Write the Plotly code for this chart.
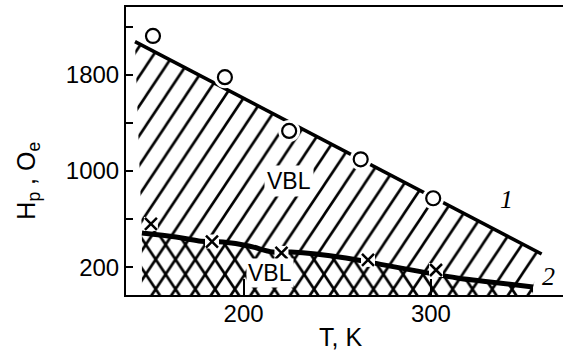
import plotly.graph_objects as go

# Data
circ_T = [151.6, 190.0, 224.3, 262.5, 301.2]
circ_H = [2123, 1780, 1333, 1097, 773]

line1_T = [142.0, 182.1, 255.7, 307.5, 359.1]
line1_H = [2076, 1749, 1150, 734, 309]

cross_T = [150.5, 183.1, 220.2, 266.4, 302.7]
cross_H = [559, 413, 318, 260, 176]

curve2_T = [145.7, 163.9, 176.1, 189.0, 202.8, 215.6, 225.3, 254.6, 269.0, 313.9, 331.5, 354.5]
curve2_H = [484, 451, 418, 409, 376, 326, 326, 276, 235, 110, 77, 35]

x_range = [137.2, 370.5]
y_range = [-32, 2364]
x_ticks = [200, 300]
y_ticks = [200, 600, 1000, 1400, 1800, 2200]
y_ticklabels = ["200", "", "1000", "", "1800", ""]

FONT = "Liberation Sans, Arial, sans-serif"
SERIF = "Liberation Serif, Times New Roman, serif"

fig = go.Figure()

# single-hatched region between line 1 and curve 2
poly1_x = line1_T + curve2_T[::-1]
poly1_y = line1_H + curve2_H[::-1]
fig.add_trace(go.Scatter(
    x=poly1_x, y=poly1_y, mode="lines", fill="toself",
    line=dict(width=0, color="rgba(0,0,0,0)"),
    fillcolor="white",
    fillpattern=dict(shape="/", size=14, solidity=0.16, fgcolor="black",
                     bgcolor="white", fgopacity=1),
    hoverinfo="skip", showlegend=False))

# cross-hatched region below curve 2
poly2_x = curve2_T + [curve2_T[-1], curve2_T[0]]
poly2_y = curve2_H + [y_range[0], y_range[0]]
fig.add_trace(go.Scatter(
    x=poly2_x, y=poly2_y, mode="lines", fill="toself",
    line=dict(width=0, color="rgba(0,0,0,0)"),
    fillcolor="white",
    fillpattern=dict(shape="x", size=14, solidity=0.3, fgcolor="black",
                     bgcolor="white", fgopacity=1),
    hoverinfo="skip", showlegend=False))

# line 1
fig.add_trace(go.Scatter(x=line1_T, y=line1_H, mode="lines",
                         line=dict(color="black", width=3.5), showlegend=False))
# curve 2
fig.add_trace(go.Scatter(x=curve2_T, y=curve2_H, mode="lines", line_shape="spline",
                         line=dict(color="black", width=5), showlegend=False))

# white halos for gaps
fig.add_trace(go.Scatter(x=circ_T, y=circ_H, mode="markers",
                         marker=dict(symbol="circle", size=22, color="white"),
                         showlegend=False))
fig.add_trace(go.Scatter(x=circ_T, y=circ_H, mode="markers",
                         marker=dict(symbol="circle-open", size=14, color="black",
                                     line=dict(width=2.2, color="black")),
                         showlegend=False))
fig.add_trace(go.Scatter(x=cross_T, y=cross_H, mode="markers",
                         marker=dict(symbol="square", size=14, color="white"),
                         showlegend=False))
fig.add_trace(go.Scatter(x=cross_T, y=cross_H, mode="markers",
                         marker=dict(symbol="x-thin", size=12, color="black",
                                     line=dict(width=2.5, color="black")),
                         showlegend=False))

annotations = [
    dict(x=224.2, y=917, text="VBL", showarrow=False, bgcolor="white",
         font=dict(family=FONT, size=23, color="black"), borderpad=2),
    dict(x=214.0, y=151, text="VBL", showarrow=False, bgcolor="white",
         font=dict(family=FONT, size=23, color="black"), borderpad=1),
    dict(x=340.6, y=759, text="<i>1</i>", showarrow=False,
         font=dict(family=SERIF, size=26, color="black")),
    dict(x=362.5, y=118, text="<i>2</i>", showarrow=False,
         font=dict(family=SERIF, size=26, color="black")),
    dict(x=0.49, y=-0.146, xref="paper", yref="paper", text="T, K", showarrow=False,
         xanchor="center", yanchor="middle",
         font=dict(family=FONT, size=25, color="black")),
    dict(x=-0.225, y=0.396, xref="paper", yref="paper", textangle=-90,
         xanchor="center", yanchor="middle",
         text="H<sub>p</sub> , O<sub>e</sub>", showarrow=False,
         font=dict(family=FONT, size=25, color="black")),
]

fig.update_layout(
    width=563, height=354,
    margin=dict(l=126, r=0, t=7, b=59, autoexpand=False),
    plot_bgcolor="white", paper_bgcolor="white",
    font=dict(family=FONT, size=24, color="black"),
    annotations=annotations,
    xaxis=dict(range=x_range, tickvals=x_ticks, ticks="inside", ticklen=16, tickwidth=1.5,
               tickcolor="black", showline=True, linecolor="black", linewidth=2,
               mirror=True, showgrid=False, zeroline=False, automargin=False,
               ticklabelstandoff=-4),
    yaxis=dict(range=y_range, tickvals=y_ticks, ticktext=y_ticklabels, ticks="inside",
               ticklen=7, tickwidth=1.5, tickcolor="black", showline=True,
               linecolor="black", linewidth=2, showgrid=False, zeroline=False,
               automargin=False),
)

post = """
document.body.style.margin='0';document.body.style.overflow='hidden';
function steepen(){document.querySelectorAll('pattern').forEach(function(p){
  p.setAttribute('patternTransform','scale(1,1.5)');});}
steepen(); setTimeout(steepen,50); setTimeout(steepen,300);
"""
fig.write_html("out.html", config={"displayModeBar": False}, post_script=post)
